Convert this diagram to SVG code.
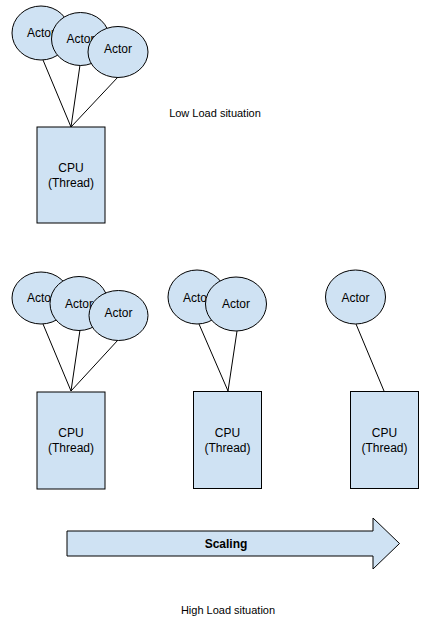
<svg xmlns="http://www.w3.org/2000/svg" width="442" height="636" viewBox="0 0 442 636">
<style>
.n{fill:#cfe2f3;stroke:#000;stroke-width:1}
.t{font-family:"Liberation Sans",Arial,sans-serif;font-size:12px;fill:#000;text-anchor:middle}
.l{font-family:"Liberation Sans",Arial,sans-serif;font-size:11px;fill:#000;text-anchor:middle}
.c line{stroke:#000;stroke-width:1}
</style>
<rect width="442" height="636" fill="#fff"/>
<g class="c" id="connectors">
<line x1="43" y1="60" x2="71" y2="127"/>
<line x1="80" y1="65" x2="71" y2="127"/>
<line x1="118" y1="77" x2="71" y2="127"/>
<line x1="43" y1="324" x2="71" y2="391"/>
<line x1="80" y1="330" x2="71" y2="391"/>
<line x1="118" y1="340" x2="71" y2="391"/>
<line x1="199" y1="324" x2="228" y2="391"/>
<line x1="237" y1="331" x2="228" y2="391"/>
<line x1="356" y1="324" x2="384" y2="391"/>
</g>
<g id="actor1"><ellipse class="n" cx="41" cy="33" rx="29" ry="27"/><text class="t" x="41" y="37">Actor</text></g>
<g id="actor2"><ellipse class="n" cx="80.5" cy="39" rx="29" ry="26.5"/><text class="t" x="80.5" y="43">Actor</text></g>
<g id="actor3"><ellipse class="n" cx="118" cy="52" rx="30" ry="25.5"/><text class="t" x="118" y="53">Actor</text></g>
<g id="cpu1"><rect class="n" x="37" y="127" width="68" height="96"/><text class="t" x="71" y="172">CPU</text><text class="t" x="71" y="187">(Thread)</text></g>
<g id="lowload"><text class="l" x="215" y="117">Low Load situation</text></g>
<g id="actor4"><ellipse class="n" cx="41" cy="298" rx="29" ry="26"/><text class="t" x="41" y="302">Actor</text></g>
<g id="actor5"><ellipse class="n" cx="79" cy="303.5" rx="29" ry="27"/><text class="t" x="79" y="308">Actor</text></g>
<g id="actor6"><ellipse class="n" cx="118.5" cy="315.5" rx="29.5" ry="25"/><text class="t" x="118.5" y="317">Actor</text></g>
<g id="cpu2"><rect class="n" x="37" y="392" width="68" height="97"/><text class="t" x="71" y="437">CPU</text><text class="t" x="71" y="452">(Thread)</text></g>
<g id="actor7"><ellipse class="n" cx="197" cy="297" rx="29" ry="27"/><text class="t" x="197" y="302">Actor</text></g>
<g id="actor8"><ellipse class="n" cx="236" cy="304" rx="30.5" ry="27"/><text class="t" x="236" y="308">Actor</text></g>
<g id="cpu3"><rect class="n" x="193.5" y="391.5" width="68" height="97"/><text class="t" x="227.5" y="437">CPU</text><text class="t" x="227.5" y="452">(Thread)</text></g>
<g id="actor9"><ellipse class="n" cx="355.5" cy="297" rx="30" ry="27"/><text class="t" x="355.5" y="302">Actor</text></g>
<g id="cpu4"><rect class="n" x="350.5" y="391.5" width="68" height="97"/><text class="t" x="384.5" y="437">CPU</text><text class="t" x="384.5" y="452">(Thread)</text></g>
<g id="scaling"><polygon class="n" points="67,531 373,531 373,518 399.5,543.5 373,569 373,556 67,556"/><text class="t" x="226" y="548" font-weight="bold">Scaling</text></g>
<g id="highload"><text class="l" x="228" y="614">High Load situation</text></g>
</svg>
